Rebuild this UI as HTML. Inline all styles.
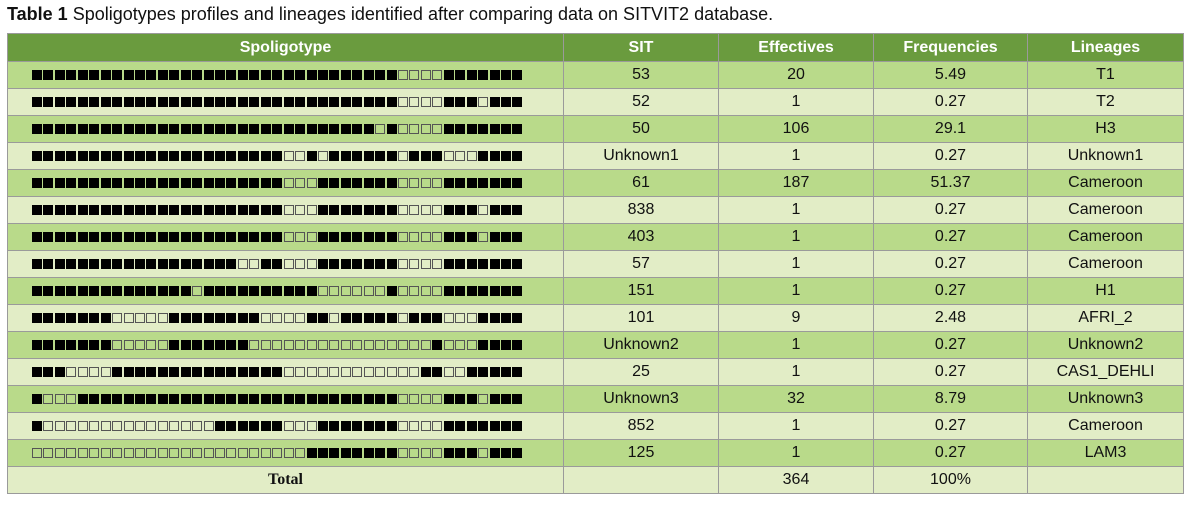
<!DOCTYPE html>
<html><head><meta charset="utf-8"><style>
body{margin:0;background:#fff;width:1194px;height:507px;overflow:hidden;font-family:"Liberation Sans",sans-serif;}
#title{position:absolute;left:7px;top:4px;font-size:18px;color:#111;}
table{position:absolute;left:7px;top:33px;border-collapse:collapse;table-layout:fixed;width:1176px}
td,th{border:1px solid #9a9a9a;height:26px;padding:0;text-align:center;font-size:16px;color:#111}
th{background:#6a9b3e;color:#fff;font-weight:bold;height:27px}
tr.d td{background:#b9da8a}
tr.l td{background:#e2edc6}
.sp{display:flex;justify-content:flex-start;padding-left:24px;gap:0}
.sq{width:10px;height:10px;margin-right:1.44px;box-sizing:border-box}
.b{background:#000}
.w{border:1px solid #555;background:transparent}
</style></head><body>
<div id="title"><b>Table 1</b> Spoligotypes profiles and lineages identified after comparing data on SITVIT2 database.</div>
<table>
<colgroup><col style="width:556px"><col style="width:155px"><col style="width:155px"><col style="width:154px"><col style="width:156px"></colgroup>
<thead><tr><th>Spoligotype</th><th>SIT</th><th>Effectives</th><th>Frequencies</th><th>Lineages</th></tr></thead>
<tbody id="tb"></tbody>
</table>
<script>
const patterns=[
[[32,1],[4,0],[7,1]],
[[32,1],[4,0],[3,1],[1,0],[3,1]],
[[30,1],[1,0],[1,1],[4,0],[7,1]],
[[22,1],[2,0],[1,1],[1,0],[6,1],[1,0],[3,1],[3,0],[4,1]],
[[22,1],[3,0],[7,1],[4,0],[7,1]],
[[22,1],[3,0],[7,1],[4,0],[3,1],[1,0],[3,1]],
[[22,1],[3,0],[7,1],[4,0],[3,1],[1,0],[3,1]],
[[18,1],[2,0],[2,1],[3,0],[7,1],[4,0],[7,1]],
[[14,1],[1,0],[10,1],[6,0],[1,1],[4,0],[7,1]],
[[7,1],[5,0],[8,1],[4,0],[2,1],[1,0],[5,1],[1,0],[3,1],[3,0],[4,1]],
[[7,1],[5,0],[7,1],[16,0],[1,1],[3,0],[4,1]],
[[3,1],[4,0],[15,1],[12,0],[2,1],[2,0],[5,1]],
[[1,1],[3,0],[28,1],[4,0],[3,1],[1,0],[3,1]],
[[1,1],[15,0],[6,1],[3,0],[7,1],[4,0],[7,1]],
[[24,0],[8,1],[4,0],[3,1],[1,0],[3,1]]
];
const sits=["53","52","50","Unknown1","61","838","403","57","151","101","Unknown2","25","Unknown3","852","125"];
const effectives=["20","1","106","1","187","1","1","1","1","9","1","1","32","1","1"];
const freqs=["5.49","0.27","29.1","0.27","51.37","0.27","0.27","0.27","0.27","2.48","0.27","0.27","8.79","0.27","0.27"];
const lineages=["T1","T2","H3","Unknown1","Cameroon","Cameroon","Cameroon","Cameroon","H1","AFRI_2","Unknown2","CAS1_DEHLI","Unknown3","Cameroon","LAM3"];
const tb=document.getElementById('tb');
patterns.forEach((p,i)=>{
  const tr=document.createElement('tr');
  tr.className=i%2?'l':'d';
  
  
  const td=document.createElement('td');
  
  
  const div=document.createElement('div');div.className='sp';
  p.forEach(([n,v])=>{for(let k=0;k<n;k++){const s=document.createElement('span');s.className='sq '+(v?'b':'w');div.appendChild(s);}});
  td.appendChild(div);tr.appendChild(td);
  [[sits[i],'sit-cell'],[effectives[i],'effectives-cell'],[freqs[i],'frequency-cell'],[lineages[i],'lineage-cell']].forEach(([t,n])=>{
    const c=document.createElement('td');c.textContent=t;
    
    
    tr.appendChild(c);
  });
  tb.appendChild(tr);
});
</script>
<script>
(function(){
const tr=document.createElement('tr');tr.className='l';


tr.innerHTML='<td style="font-family:\'Liberation Serif\',serif;font-weight:bold">Total</td><td></td><td>364</td><td>100%</td><td></td>';
document.getElementById('tb').appendChild(tr);
})();
</script>
</body></html>
